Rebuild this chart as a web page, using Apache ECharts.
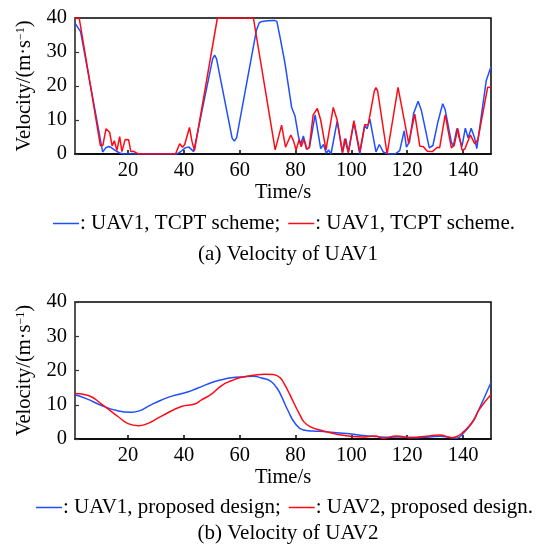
<!DOCTYPE html>
<html>
<head>
<meta charset="utf-8">
<script src="https://cdn.jsdelivr.net/npm/echarts@6/dist/echarts.min.js"></script>
<style>
  html, body { margin: 0; padding: 0; background: #fff; }
  #chart { width: 540px; height: 544px; }
</style>
</head>
<body>
<div id="chart"></div>
<script>
// x 轴刻度
const timeTicks = [20, 40, 60, 80, 100, 120, 140]

// (a) TCPT 方案
const tcptBlueT = [1, 1.5, 3, 10.9, 12, 13, 14, 15.5, 17, 18.5, 37.5, 39, 40.5, 41.7, 42.5, 43.5, 50.3, 51, 51.7, 57.3, 58.1, 58.9, 66, 67, 68, 70, 72.4, 73.3, 74.4, 76.2, 78.6, 79.8, 81, 81.8, 82.8, 84, 85, 87, 89, 90, 91, 91.8, 92.7, 94.9, 96.8, 98, 98.9, 100.9, 103, 104.8, 105.6, 106.6, 108.8, 110, 111.4, 113.2, 115.6, 117.3, 118.9, 119.7, 120.8, 122.3, 123.9, 125.1, 127.9, 129.2, 131, 132.7, 133.6, 135.8, 136.5, 137.8, 138.7, 139.6, 140.8, 141.8, 142.9, 144.1, 144.9, 148.3, 150]
const tcptBlueV = [38.5, 38.4, 36, 0.6, 1.8, 2.2, 1.9, 1.0, 0.3, 0, 0, 0.8, 1.8, 2.1, 1.5, 0.7, 28, 29.1, 28, 4.6, 3.8, 4.8, 36.5, 38.6, 39, 39.2, 39.3, 39, 34.5, 26.7, 13.7, 11.2, 5.3, 2.8, 5.3, 1.4, 2, 11.5, 1.6, 2.8, 0.2, 1.2, 0, 9.7, 0.4, 4.5, 0.4, 9.3, 0, 8.6, 7.4, 10.3, 0.6, 2.8, 0.6, 0, 0, 1, 6.8, 2, 3.6, 12, 15.5, 12.7, 1.8, 2.5, 9.5, 14.8, 13, 3.5, 2.3, 7.5, 4.5, 2.2, 7.6, 4.7, 7.6, 4.8, 1.6, 21.6, 25.7]
const tcptRedT = [1, 2.5, 10.1, 11, 12.1, 13.4, 14.3, 15.1, 16, 17, 17.8, 19, 20.2, 21, 22, 23, 24, 37, 38.5, 39.5, 40.3, 42, 42.9, 43.8, 52, 64.9, 72.7, 75, 76.4, 78.3, 79.2, 80.2, 81.3, 82, 83, 84, 84.9, 86.3, 87.8, 89, 90.9, 93.5, 94.9, 96.8, 97.6, 98.9, 100.9, 103, 104.8, 106, 108.2, 108.8, 109.4, 112.8, 116.7, 120.5, 122.7, 124.5, 125.7, 127.2, 129, 130.8, 131.6, 133.6, 135.8, 136.8, 138.1, 139.6, 140.6, 142.6, 144.2, 145.3, 148.8, 150]
const tcptRedV = [40, 40, 2.4, 2.6, 7.4, 6.4, 2.4, 3.9, 1, 5.1, 0.7, 4.3, 4.2, 0.7, 0.8, 0.3, 0, 0, 3, 2, 2.8, 7.8, 3.7, 1, 40, 40, 1.2, 8.5, 2, 5.6, 4, 1.2, 4.3, 2.1, 4.3, 1.4, 1.9, 11.5, 13.4, 10, 1.2, 13.7, 10, 0.4, 4.5, 0.4, 9.8, 0.7, 8.6, 8.6, 18.5, 19.5, 18.5, 0, 19.6, 3.2, 11.7, 2.3, 2.2, 0.8, 0.7, 2, 1.8, 11.5, 1.8, 2.5, 7.5, 1.2, 1.4, 5.6, 3, 4.2, 19.6, 19.6]

// (b) 本文方案
const propBlueT = [1, 5, 10.5, 16, 21.3, 24, 28, 32, 36, 40.4, 43, 46.3, 50, 53.5, 57, 61.8, 65, 67.8, 70.9, 73.1, 74.4, 77.4, 79.8, 82.8, 86.3, 89.9, 94.7, 99.5, 104.3, 109, 113, 118, 123, 128, 132, 135, 137.6, 140, 143.5, 145.7, 150]
const propBlueV = [12.9, 11.8, 9.8, 8.3, 7.8, 8.2, 9.9, 11.4, 12.6, 13.5, 14.2, 15.3, 16.5, 17.3, 17.9, 18.2, 18.3, 17.8, 17, 15.1, 13.4, 8.1, 4.6, 2.6, 2.3, 2.2, 1.8, 1.5, 1.0, 0.7, 0.5, 0.6, 0.4, 0.6, 0.8, 0.5, 0.2, 1.6, 5.1, 8.7, 16.5]
const propRedT = [1, 5.8, 10.5, 16.5, 20, 23.7, 26, 32, 39.1, 43.9, 46.3, 50, 53.5, 57, 60.6, 65, 69, 72, 74.4, 76, 78, 80, 81.6, 83, 85.2, 88.7, 94.7, 100.6, 104, 108.5, 111.4, 116.2, 120.9, 124, 126.9, 131.6, 135.8, 138, 140, 143.5, 145.7, 150]
const propRedV = [13.3, 12.7, 10.2, 6.5, 4.5, 3.9, 4.2, 6.7, 9.5, 10.2, 11.4, 13.2, 15.6, 17, 18, 18.6, 18.9, 18.8, 17.9, 16, 12.9, 9.5, 7, 5, 3.6, 2.6, 1.4, 0.7, 0.6, 0.9, 0.2, 0.9, 0.4, 0.6, 0.8, 1.2, 0.4, 0.8, 2, 5.1, 8.5, 13]

const BLUE = '#1f4fff'
const RED = '#ff0a14'
const FONT = 'Liberation Serif'

const pairs = (t, v) => t.map((x, i) => [x, v[i]])

const chart = echarts.init(document.getElementById('chart'))

const mkX = (gi) => ({
  type: 'value',
  gridIndex: gi,
  min: 1,
  max: 150,
  name: 'Time/s',
  nameLocation: 'middle',
  nameGap: 28,
  nameTextStyle: { fontFamily: FONT, fontSize: 20.5, color: '#000' },
  axisLine: { show: true, lineStyle: { color: '#000', width: 1.5 } },
  axisTick: { show: true, inside: true, length: 4, customValues: timeTicks, lineStyle: { color: '#000', width: 1.5 } },
  axisLabel: { customValues: timeTicks, fontFamily: FONT, fontSize: 20.5, color: '#000', margin: 6 },
  splitLine: { show: false }
})

const mkY = (gi) => ({
  type: 'value',
  gridIndex: gi,
  min: 0,
  max: 40,
  interval: 10,
  name: 'Velocity/(m·s{sup|−1})',
  nameLocation: 'middle',
  nameRotate: 90,
  nameGap: 38,
  nameTextStyle: {
    fontFamily: FONT, fontSize: 20.5, color: '#000',
    rich: { sup: { fontFamily: FONT, fontSize: 12, color: '#000', verticalAlign: 'top' } }
  },
  axisLine: { show: true, lineStyle: { color: '#555', width: 2 } },
  axisTick: { show: true, inside: true, length: 4, lineStyle: { color: '#333', width: 1.2 } },
  axisLabel: { fontFamily: FONT, fontSize: 20.5, color: '#000', margin: 8 },
  splitLine: { show: false }
})

const mkLegend = (names, left, top) => ({
  data: names,
  left: left,
  top: top,
  icon: 'rect',
  itemWidth: 26,
  itemHeight: 1.5,
  itemGap: 8,
  selectedMode: false,
  textStyle: { fontFamily: FONT, fontSize: 21, color: '#000', padding: [0, 0, 0, -4] }
})

const mkLine = (name, t, v, color, xi, smooth) => ({
  name: name,
  type: 'line',
  xAxisIndex: xi,
  yAxisIndex: xi,
  data: pairs(t, v),
  smooth: smooth,
  showSymbol: false,
  symbol: 'none',
  lineStyle: { color: color, width: 1.5 },
  itemStyle: { color: color },
  z: color === RED ? 3 : 2
})

const option = {
  animation: false,
  backgroundColor: '#fff',
  title: [
    { text: '(a) Velocity of UAV1', left: 283, top: 239, textAlign: 'center',
      textStyle: { fontFamily: FONT, fontSize: 21, fontWeight: 'normal', color: '#000' } },
    { text: '(b) Velocity of UAV2', left: 283, top: 518, textAlign: 'center',
      textStyle: { fontFamily: FONT, fontSize: 21, fontWeight: 'normal', color: '#000' } }
  ],
  legend: [
    mkLegend([': UAV1, TCPT scheme;', ': UAV1, TCPT scheme.'], 48, 208),
    mkLegend([': UAV1, proposed design;', ': UAV2, proposed design.'], 31, 492)
  ],
  grid: [
    { left: 75, right: 49, top: 18, height: 136, show: true, borderColor: '#000', borderWidth: 1.5 },
    { left: 75, right: 49, top: 302, height: 137, show: true, borderColor: '#000', borderWidth: 1.5 }
  ],
  xAxis: [mkX(0), mkX(1)],
  yAxis: [mkY(0), mkY(1)],
  series: [
    mkLine(': UAV1, TCPT scheme;', tcptBlueT, tcptBlueV, BLUE, 0, false),
    mkLine(': UAV1, TCPT scheme.', tcptRedT, tcptRedV, RED, 0, false),
    mkLine(': UAV1, proposed design;', propBlueT, propBlueV, BLUE, 1, true),
    mkLine(': UAV2, proposed design.', propRedT, propRedV, RED, 1, true)
  ]
}

chart.setOption(option)
</script>
</body>
</html>
